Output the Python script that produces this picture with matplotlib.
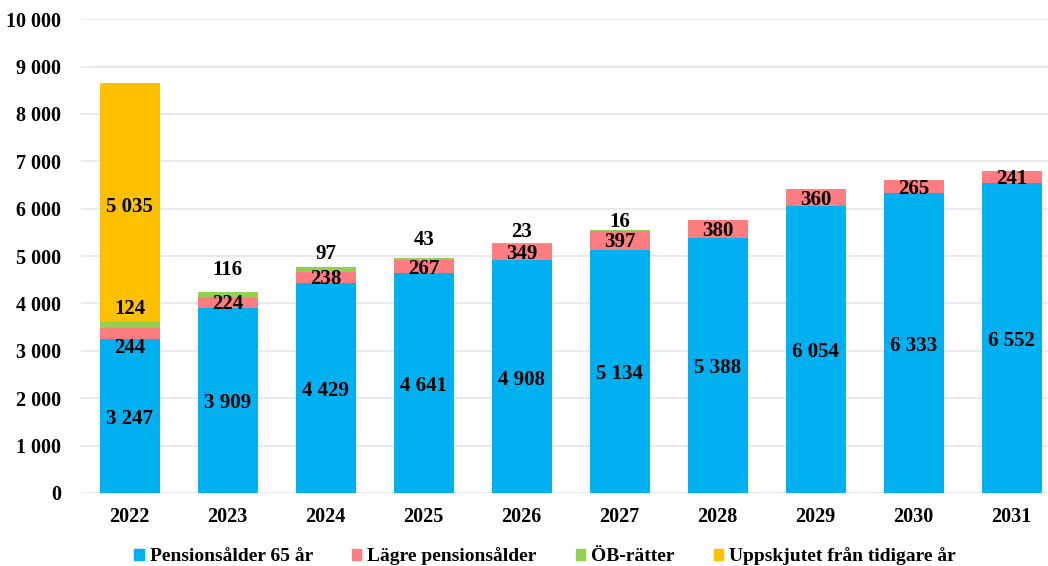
import matplotlib.pyplot as plt
import numpy as np

years = ['2022', '2023', '2024', '2025', '2026', '2027', '2028', '2029', '2030', '2031']
pension65 = [3247, 3909, 4429, 4641, 4908, 5134, 5388, 6054, 6333, 6552]
lagre = [244, 224, 238, 267, 349, 397, 380, 360, 265, 241]
ob = [124, 116, 97, 43, 23, 16, 0, 0, 0, 0]
uppskjutet = [5035, 0, 0, 0, 0, 0, 0, 0, 0, 0]

names = ['Pensionsålder 65 år', 'Lägre pensionsålder', 'ÖB-rätter', 'Uppskjutet från tidigare år']
colors = ['#00B0F0', '#FF7C80', '#92D050', '#FFC000']


def fmt(v):
    return '{:,}'.format(int(v)).replace(',', ' ')


plt.rcParams['font.family'] = ['Liberation Serif', 'DejaVu Serif']
plt.rcParams['font.weight'] = 'bold'

fig = plt.figure(figsize=(10.48, 5.66), dpi=100)
ax = fig.add_axes([0.077, 0.129, 0.923, 0.837])

x = np.arange(len(years))
w = 0.61
series = [pension65, lagre, ob, uppskjutet]
bottom = np.zeros(len(years))
for vals, c, n in zip(series, colors, names):
    ax.bar(x, vals, w, bottom=bottom, color=c, label=n, zorder=2)
    bottom = bottom + np.array(vals)

fs = 15
# Pensionsålder 65 år: middle of the segment
for i, v in enumerate(pension65):
    ax.text(x[i], v / 2 - 60, fmt(v), ha='center', va='center', fontsize=fs, fontweight='bold', zorder=3)

# Lägre pensionsålder
for i, v in enumerate(lagre):
    if i == 0:
        # moved below the segment in the original
        ax.text(x[i], pension65[i] - 190, fmt(v), ha='center', va='center', fontsize=fs, fontweight='bold', zorder=3)
    else:
        ax.text(x[i], pension65[i] + v / 2 - 40, fmt(v), ha='center', va='center', fontsize=fs, fontweight='bold', zorder=3)

# ÖB-rätter: above the bar
ob_off = [270, 450, 280, 390, 225, 170]
for i, v in enumerate(ob):
    if v == 0:
        continue
    top = pension65[i] + lagre[i] + v
    ax.text(x[i], top + ob_off[i], fmt(v), ha='center', va='center', fontsize=fs, fontweight='bold', zorder=3)

# Uppskjutet
for i, v in enumerate(uppskjutet):
    if v == 0:
        continue
    base = pension65[i] + lagre[i] + ob[i]
    ax.text(x[i], base + v / 2 - 100, fmt(v), ha='center', va='center', fontsize=fs, fontweight='bold', zorder=3)

ax.set_ylim(0, 10000)
ax.set_xlim(-0.5, 9.37)
ax.set_yticks(np.arange(0, 10001, 1000))
ax.set_yticklabels([fmt(t) for t in np.arange(0, 10001, 1000)], fontsize=14.5, fontweight='bold')
ax.set_xticks(x)
ax.set_xticklabels(years, fontsize=14.5, fontweight='bold')
ax.tick_params(axis='both', length=0)
ax.tick_params(axis='y', pad=14)
ax.tick_params(axis='x', pad=10)
ax.yaxis.grid(True, color='#E4E6F0', linewidth=1.2, zorder=0)
ax.set_axisbelow(True)
for s in ax.spines.values():
    s.set_visible(False)

handles = [plt.Rectangle((0, 0), 1, 1, color=c) for c in colors]
fig.legend(handles, names, loc='center', bbox_to_anchor=(0.52, 0.017), ncol=4, frameon=False,
           prop={'size': 14, 'weight': 'bold'}, handlelength=0.5, handleheight=0.5,
           handletextpad=0.3, columnspacing=2.0)

fig.savefig('out.png', dpi=100)
